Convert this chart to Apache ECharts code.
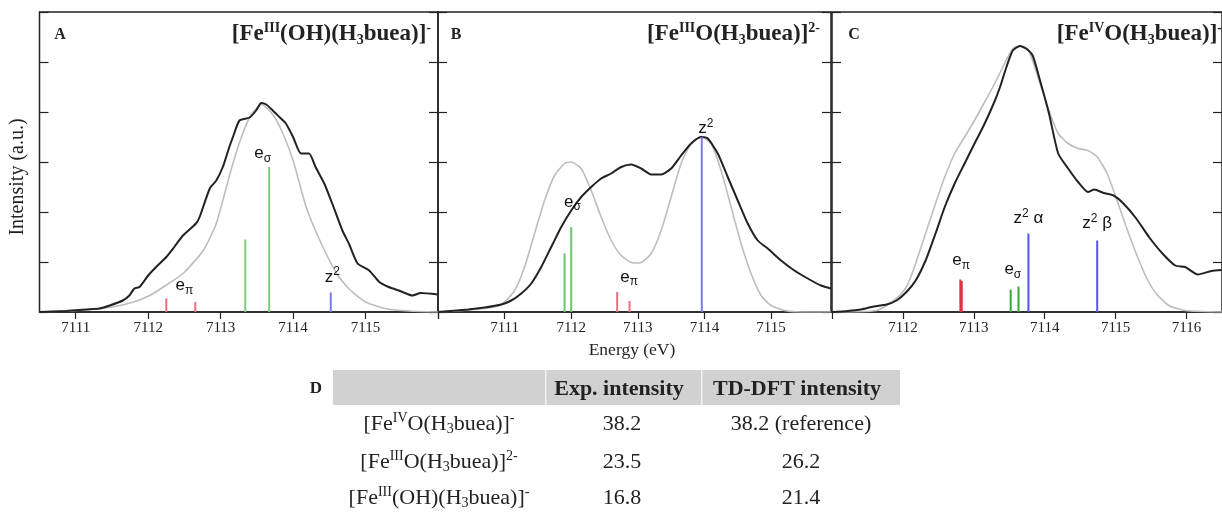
<!DOCTYPE html>
<html>
<head>
<meta charset="utf-8">
<script src="https://cdn.jsdelivr.net/npm/echarts@6/dist/echarts.min.js"></script>
<style>html,body{margin:0;padding:0;background:#fff;}#c{width:1222px;height:514px;}</style>
</head>
<body>
<div id="c"></div>
<script>
// ---------- DATA ----------
// Panel A: [Fe(III)(OH)(H3buea)]-
const expA = [[7110.5,0],[7110.87,0.02],[7111.15,0.05],[7111.33,0.07],[7111.47,0.13],[7111.65,0.23],[7111.74,0.33],[7111.81,0.47],[7111.88,0.5],[7112.0,0.73],[7112.11,0.9],[7112.25,1.1],[7112.36,1.3],[7112.48,1.53],[7112.66,1.77],[7112.71,1.9],[7112.85,2.47],[7112.94,2.63],[7113.03,2.9],[7113.12,3.3],[7113.17,3.5],[7113.26,3.83],[7113.4,3.89],[7113.49,4.03],[7113.56,4.18],[7113.63,4.15],[7113.72,4.03],[7113.81,3.9],[7113.9,3.77],[7114.0,3.5],[7114.11,3.17],[7114.22,3.17],[7114.31,2.9],[7114.43,2.57],[7114.54,2.17],[7114.68,1.63],[7114.77,1.37],[7114.89,0.97],[7115.05,0.83],[7115.19,0.6],[7115.32,0.5],[7115.46,0.43],[7115.65,0.33],[7115.76,0.38],[7116.0,0.35]];
const calcA = [[7110.5,0],[7111.0,0.03],[7111.5,0.1],[7111.8,0.2],[7112.02,0.33],[7112.21,0.5],[7112.48,0.77],[7112.76,1.23],[7112.94,1.77],[7113.13,2.77],[7113.27,3.43],[7113.42,3.95],[7113.57,4.15],[7113.72,3.95],[7113.85,3.6],[7114.0,3.03],[7114.18,2.1],[7114.37,1.43],[7114.6,0.77],[7114.78,0.45],[7115.0,0.2],[7115.3,0.06],[7115.6,0.02],[7116.0,0]];
const redA = [[7112.25,0.27],[7112.65,0.2]];
const greenA = [[7113.34,1.45],[7113.67,2.9]];
const blueA = [[7114.52,0.39]];
const labelsA = [[7112.5,0.53,'eπ'],[7113.58,3.17,'eσ'],[7114.54,0.7,'z2']];

// Panel B: [Fe(III)O(H3buea)]2-
const expB = [[7110,0],[7110.45,0.05],[7110.7,0.09],[7110.95,0.15],[7111.1,0.23],[7111.25,0.37],[7111.4,0.57],[7111.55,0.9],[7111.7,1.3],[7111.85,1.7],[7112.0,2.03],[7112.15,2.3],[7112.3,2.5],[7112.45,2.67],[7112.6,2.77],[7112.75,2.9],[7112.9,2.95],[7113.05,2.87],[7113.2,2.75],[7113.35,2.75],[7113.5,2.87],[7113.65,3.13],[7113.8,3.37],[7113.95,3.5],[7114.05,3.47],[7114.2,3.17],[7114.35,2.7],[7114.5,2.23],[7114.65,1.77],[7114.8,1.43],[7114.95,1.27],[7115.15,1.03],[7115.35,0.83],[7115.55,0.67],[7115.75,0.53],[7115.9,0.47]];
const calcB = [[7110,0],[7110.7,0.07],[7110.95,0.15],[7111.15,0.43],[7111.3,0.9],[7111.45,1.57],[7111.6,2.23],[7111.75,2.73],[7111.9,2.97],[7112.0,3.0],[7112.15,2.87],[7112.3,2.43],[7112.45,1.9],[7112.6,1.43],[7112.75,1.13],[7112.9,0.99],[7113.03,0.98],[7113.2,1.17],[7113.35,1.63],[7113.5,2.3],[7113.65,2.97],[7113.8,3.37],[7113.95,3.51],[7114.1,3.37],[7114.25,2.83],[7114.4,2.1],[7114.55,1.37],[7114.7,0.77],[7114.85,0.33],[7115.0,0.13],[7115.2,0.03],[7115.45,0],[7115.9,0]];
const redB = [[7112.69,0.4],[7112.875,0.22]];
const greenB = [[7111.9,1.17],[7112.0,1.7]];
const blueB = [[7113.96,3.5]];
const labelsB = [[7112.02,2.2,'eσ'],[7112.87,0.7,'eπ'],[7114.02,3.67,'z2']];

// Panel C: [Fe(IV)O(H3buea)]-
const expC = [[7111.0,0],[7111.22,0.02],[7111.41,0.05],[7111.59,0.11],[7111.77,0.15],[7111.91,0.23],[7112.05,0.4],[7112.18,0.63],[7112.32,1.03],[7112.46,1.57],[7112.59,2.1],[7112.73,2.57],[7112.87,2.97],[7113.01,3.37],[7113.14,3.73],[7113.28,4.17],[7113.37,4.5],[7113.46,4.9],[7113.55,5.23],[7113.65,5.32],[7113.74,5.27],[7113.83,5.13],[7113.92,4.7],[7114.06,3.97],[7114.19,3.17],[7114.33,2.87],[7114.47,2.6],[7114.61,2.4],[7114.7,2.45],[7114.83,2.38],[7114.97,2.33],[7115.11,2.17],[7115.29,1.87],[7115.47,1.5],[7115.66,1.17],[7115.84,0.93],[7115.98,0.9],[7116.16,0.75],[7116.35,0.82],[7116.5,0.84]];
const calcC = [[7111.0,0],[7111.63,0.03],[7111.91,0.27],[7112.05,0.5],[7112.18,0.97],[7112.32,1.57],[7112.46,2.17],[7112.59,2.7],[7112.73,3.17],[7112.87,3.5],[7113.01,3.83],[7113.14,4.17],[7113.28,4.53],[7113.42,4.93],[7113.55,5.27],[7113.65,5.32],[7113.78,5.2],[7113.92,4.63],[7114.06,4.03],[7114.19,3.57],[7114.33,3.37],[7114.47,3.27],[7114.61,3.23],[7114.74,3.1],[7114.88,2.77],[7115.02,2.23],[7115.15,1.7],[7115.29,1.17],[7115.43,0.7],[7115.57,0.37],[7115.75,0.13],[7115.98,0.03],[7116.5,0]];
const redC = [[7112.81,0.65],[7112.83,0.62]];
const greenC = [[7113.52,0.45],[7113.63,0.51]];
const blueC = [[7113.77,1.57],[7114.74,1.43]];
const labelsC = [[7112.82,1.03,'eπ'],[7113.55,0.85,'eσ'],[7113.77,1.87,'z2 α'],[7114.74,1.77,'z2 β']];

// Axes
const xMin = [7110.5, 7110, 7111];
const xMax = [7116.0, 7115.9, 7116.5];
const tickValsA = [7111,7112,7113,7114,7115,7116];
const tickValsB = [7110,7111,7112,7113,7114,7115];
const tickValsC = [7111,7112,7113,7114,7115,7116];
const labelValsA = [7111,7112,7113,7114,7115];
const labelValsB = [7111,7112,7113,7114,7115];
const labelValsC = [7112,7113,7114,7115,7116];

// Table D
const tableHeaders = ['Exp. intensity', 'TD-DFT intensity'];
const tableComplexes = [['IV','O','-'], ['III','O','2-'], ['III','(OH)','-']];
const expIntensity = [38.2, 23.5, 16.8];
const tddftIntensity = [38.2, 26.2, 21.4];
const tddftNote = [' (reference)', '', ''];

// ---------- CHART ----------
const chart = echarts.init(document.getElementById('c'), null, {renderer:'canvas'});
const SERIF = 'Liberation Serif, Times New Roman, serif';
const SANS = 'Liberation Sans, Arial, sans-serif';
const INK = '#222';

const grids = [
  {left: 39.5, top: 12, width: 398.5, height: 300},
  {left: 438, top: 12, width: 393, height: 300},
  {left: 832, top: 12, width: 401, height: 300}
];
const tickVals = [tickValsA, tickValsB, tickValsC];
const labelVals = [labelValsA, labelValsB, labelValsC];

const xAxes = [], yAxes = [];
grids.forEach((g, i) => {
  xAxes.push({
    type: 'value', gridIndex: i, min: xMin[i], max: xMax[i],
    axisLine: {show: true, onZero: false, lineStyle: {color: INK, width: 1.5}},
    axisTick: {show: true, inside: false, length: 7, customValues: tickVals[i], lineStyle: {color: INK, width: 1.2}},
    axisLabel: {show: true, customValues: labelVals[i], fontFamily: SERIF, fontSize: 15, color: INK, margin: 9,
                formatter: v => String(Math.round(v))},
    splitLine: {show: false}
  });
  ['left', 'right'].forEach(pos => {
    yAxes.push({
      type: 'value', gridIndex: i, min: 0, max: 6, interval: 1, position: pos,
      axisLine: {show: false},
      axisTick: {show: true, inside: true, length: 9, lineStyle: {color: INK, width: 1.2}},
      axisLabel: {show: false},
      splitLine: {show: false}
    });
  });
});

function stickSeries(data, i, color, width) {
  return {
    type: 'custom', xAxisIndex: i, yAxisIndex: i * 2, data: data, silent: true, z: 3,
    renderItem: (params, api) => {
      const p0 = api.coord([api.value(0), 0]);
      const p1 = api.coord([api.value(0), api.value(1)]);
      return {type: 'line', shape: {x1: p0[0], y1: p0[1], x2: p1[0], y2: p1[1]},
              style: {stroke: color, lineWidth: width}};
    }
  };
}
function lineSeries(data, i, color, width, z) {
  return {type: 'line', xAxisIndex: i, yAxisIndex: i * 2, data: data, showSymbol: false, silent: true,
          z: z, lineStyle: {color: color, width: width}, smooth: 0.2};
}
const labelRich = {
  m: {fontFamily: SANS, fontSize: 17, color: '#111', lineHeight: 22},
  sb: {fontFamily: SANS, fontSize: 12, color: '#111', lineHeight: 9, verticalAlign: 'bottom'},
  sp: {fontFamily: SANS, fontSize: 12, color: '#111', lineHeight: 12, verticalAlign: 'top'}
};
function fmtLabel(s) {
  if (s === 'eπ') return '{m|e}{sb|π}';
  if (s === 'eσ') return '{m|e}{sb|σ}';
  if (s === 'z2') return '{m|z}{sp|2}';
  if (s === 'z2 α') return '{m|z}{sp|2}{m| α}';
  if (s === 'z2 β') return '{m|z}{sp|2}{m| β}';
  return '{m|' + s + '}';
}
function labelSeries(data, i) {
  return {
    type: 'scatter', xAxisIndex: i, yAxisIndex: i * 2, symbolSize: 1, silent: true, z: 5,
    itemStyle: {color: 'rgba(0,0,0,0)'},
    data: data.map(d => ({value: [d[0], d[1]], label: {formatter: fmtLabel(d[2])}})),
    label: {show: true, position: 'inside', color: '#111', textBorderWidth: 0, opacity: 1, rich: labelRich}
  };
}

const series = [
  lineSeries(calcA, 0, '#bdbdbd', 1.6, 1), lineSeries(expA, 0, INK, 2, 2),
  stickSeries(redA, 0, '#e8707c', 2), stickSeries(greenA, 0, '#7acc7a', 2), stickSeries(blueA, 0, '#7a7aee', 2),
  labelSeries(labelsA, 0),
  lineSeries(calcB, 1, '#bdbdbd', 1.6, 1), lineSeries(expB, 1, INK, 2, 2),
  stickSeries(redB, 1, '#e8707c', 2), stickSeries(greenB, 1, '#6cc46c', 2), stickSeries(blueB, 1, '#7a7aee', 2),
  labelSeries(labelsB, 1),
  lineSeries(calcC, 2, '#bdbdbd', 1.6, 1), lineSeries(expC, 2, INK, 2, 2),
  stickSeries(redC, 2, '#dd3344', 2), stickSeries(greenC, 2, '#33aa33', 2), stickSeries(blueC, 2, '#5555ee', 2),
  labelSeries(labelsC, 2)
];

// titles and texts
const titleRich = {
  t: {fontFamily: SERIF, fontWeight: 'bold', fontSize: 23, fill: INK, lineHeight: 26},
  sp: {fontFamily: SERIF, fontWeight: 'bold', fontSize: 14, fill: INK, lineHeight: 14, verticalAlign: 'top'},
  sb: {fontFamily: SERIF, fontWeight: 'bold', fontSize: 14, fill: INK, lineHeight: 12, verticalAlign: 'bottom'}
};
const rowRich = {
  t: {fontFamily: SERIF, fontSize: 22, fill: INK, lineHeight: 25},
  sp: {fontFamily: SERIF, fontSize: 14, fill: INK, lineHeight: 14, verticalAlign: 'top'},
  sb: {fontFamily: SERIF, fontSize: 14, fill: INK, lineHeight: 12, verticalAlign: 'bottom'}
};
function complexText(c) {
  return '{t|[Fe}{sp|' + c[0] + '}{t|' + c[1] + '(H}{sb|3}{t|buea)]}{sp|' + c[2] + '}';
}
const graphics = [];
function txt(text, x, y, opts) {
  graphics.push({type: 'text', x: x, y: y, silent: true, z: 10, rotation: opts.rotation || 0,
    style: Object.assign({text: text, align: 'center', verticalAlign: 'middle', fill: INK,
      fontFamily: SERIF, fontSize: 15}, opts.style || {})});
}
txt('A', 60, 35, {style: {fontWeight: 'bold', fontSize: 16}});
txt('B', 456, 35, {style: {fontWeight: 'bold', fontSize: 16}});
txt('C', 854, 35, {style: {fontWeight: 'bold', fontSize: 16}});
txt(complexText(['III','(OH)','-']), 431, 34, {style: {align: 'right', rich: titleRich}});
txt(complexText(['III','O','2-']), 820, 34, {style: {align: 'right', rich: titleRich}});
txt(complexText(['IV','O','-']), 1222, 34, {style: {align: 'right', rich: titleRich}});
txt('Intensity (a.u.)', 18, 177, {rotation: Math.PI / 2, style: {fontSize: 20}});
txt('Energy (eV)', 632, 350, {style: {fontSize: 17.5}});

// Table D
graphics.push({type: 'rect', silent: true, z: 1, shape: {x: 333, y: 370, width: 567, height: 35}, style: {fill: '#d1d1d1'}});
graphics.push({type: 'rect', silent: true, z: 2, shape: {x: 545, y: 370, width: 1.5, height: 35}, style: {fill: '#f2f2f2'}});
graphics.push({type: 'rect', silent: true, z: 2, shape: {x: 701, y: 370, width: 1.5, height: 35}, style: {fill: '#f2f2f2'}});
txt('D', 316, 389, {style: {fontWeight: 'bold', fontSize: 17}});
txt(tableHeaders[0], 619, 389, {style: {fontWeight: 'bold', fontSize: 22}});
txt(tableHeaders[1], 797, 389, {style: {fontWeight: 'bold', fontSize: 22}});
const rowY = [424, 462, 498];
tableComplexes.forEach((c, r) => {
  txt(complexText(c), 439, rowY[r], {style: {rich: rowRich}});
  txt(expIntensity[r].toFixed(1), 622, rowY[r], {style: {fontSize: 22}});
  txt(tddftIntensity[r].toFixed(1) + tddftNote[r], 801, rowY[r], {style: {fontSize: 22}});
});

chart.setOption({
  animation: false,
  backgroundColor: '#fff',
  grid: grids.map(g => Object.assign({show: true, borderColor: INK, borderWidth: 1.5, backgroundColor: 'transparent', containLabel: false}, g)),
  xAxis: xAxes,
  yAxis: yAxes,
  series: series,
  graphic: graphics
});
</script>
</body>
</html>
